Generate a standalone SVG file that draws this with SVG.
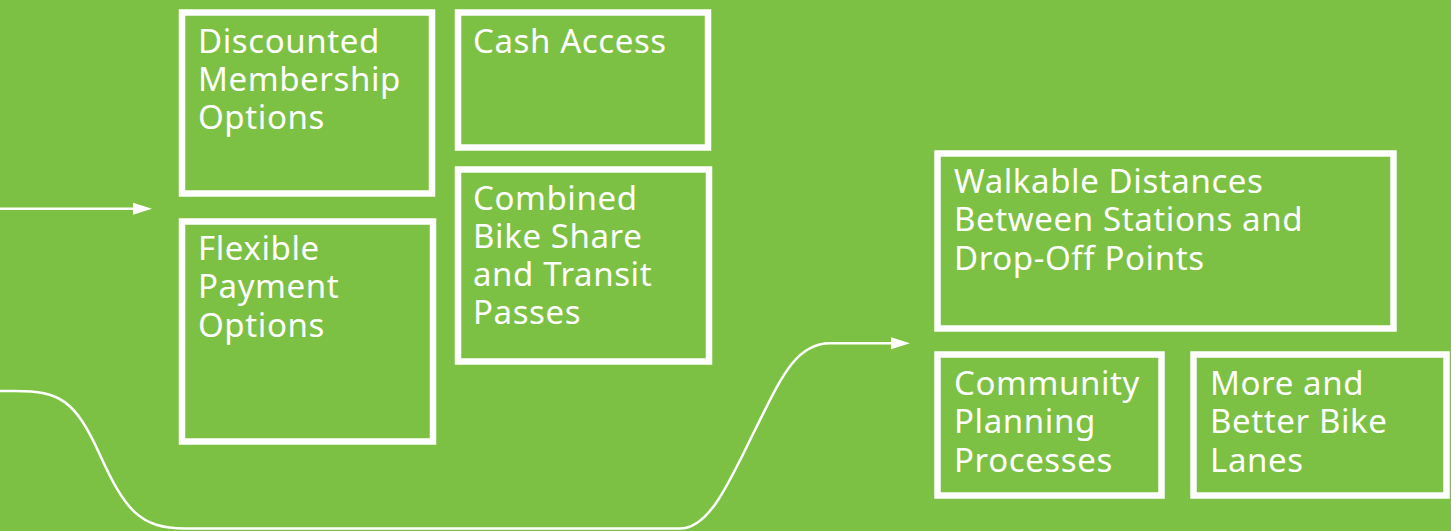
<svg xmlns="http://www.w3.org/2000/svg" width="1451" height="531" viewBox="0 0 1451 531">
<style>
.box{fill:none;stroke:#fff;stroke-width:6.5}
.lbl{fill:#fff;font-family:"Noto Sans","Open Sans","Liberation Sans",sans-serif;font-size:33px;letter-spacing:0.6px}
.conn{fill:none;stroke:#fff;stroke-width:2.5}
</style>
<rect width="1451" height="531" fill="#7cc143"/>
<g id="n1"><rect class="box" x="182" y="12.5" width="250" height="181"/><text class="lbl" x="198"><tspan x="198" y="53">Discounted</tspan><tspan x="198" y="91">Membership</tspan><tspan x="198" y="129">Options</tspan></text></g>
<g id="n2"><rect class="box" x="458" y="12.5" width="250" height="135"/><text class="lbl" x="473" y="53">Cash Access</text></g>
<g id="n3"><rect class="box" x="458" y="169.5" width="251" height="192"/><text class="lbl"><tspan x="473" y="210">Combined</tspan><tspan x="473" y="248">Bike Share</tspan><tspan x="473" y="286">and Transit</tspan><tspan x="473" y="324">Passes</tspan></text></g>
<g id="n4"><rect class="box" x="182" y="221.5" width="251" height="220"/><text class="lbl"><tspan x="198" y="260">Flexible</tspan><tspan x="198" y="298">Payment</tspan><tspan x="198" y="337">Options</tspan></text></g>
<g id="n5"><rect class="box" x="937.5" y="153.5" width="456" height="175"/><text class="lbl"><tspan x="954" y="193">Walkable Distances</tspan><tspan x="954" y="231">Between Stations and</tspan><tspan x="954" y="270">Drop-Off Points</tspan></text></g>
<g id="n6"><rect class="box" x="937.5" y="354.5" width="224" height="141"/><text class="lbl"><tspan x="954" y="395">Community</tspan><tspan x="954" y="433">Planning</tspan><tspan x="954" y="472">Processes</tspan></text></g>
<g id="n7"><rect class="box" x="1193.5" y="354.5" width="253" height="141"/><text class="lbl"><tspan x="1210" y="395">More and</tspan><tspan x="1210" y="433">Better Bike</tspan><tspan x="1210" y="472">Lanes</tspan></text></g>
<g id="connectors">
<path class="conn" d="M0,208.7 H135"/>
<polygon fill="#fff" points="133,202.7 152,208.7 133,214.7"/>
<path class="conn" d="M0,391 H15 C60,391 75,400 100,455 C125,510 140,528.5 185,528.5 H680 C710,528.5 730,480 755,430 C780,380 795,343.3 830,343.3 H893"/>
<polygon fill="#fff" points="891,337.3 910,343.3 891,349.3"/>
</g>
</svg>
